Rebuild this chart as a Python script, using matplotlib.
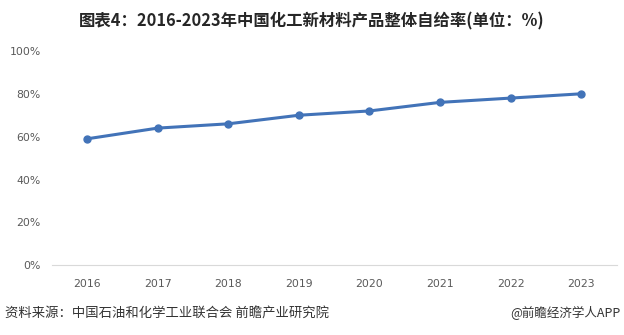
import matplotlib
matplotlib.use("Agg")
import matplotlib.pyplot as plt
from matplotlib.ticker import FuncFormatter

plt.rcParams['font.family'] = ['Noto Sans CJK SC', 'DejaVu Sans']

years = ["2016", "2017", "2018", "2019", "2020", "2021", "2022", "2023"]
rate = [59, 64, 66, 70, 72, 76, 78, 80]
yticks = [0, 20, 40, 60, 80, 100]

title = "图表4：2016-2023年中国化工新材料产品整体自给率(单位：%)"
source = "资料来源：中国石油和化学工业联合会 前瞻产业研究院"
credit = "@前瞻经济学人APP"

fig = plt.figure(figsize=(6.24, 3.35), dpi=100)
ax = fig.add_axes([0.083, 0.208, 0.905, 0.640])

x = list(range(len(years)))
ax.plot(x, rate, color="#4273B8", linewidth=2.2, marker="o", markersize=5,
        markerfacecolor="#4273B8", markeredgecolor="#4273B8", zorder=3)

ax.set_xlim(-0.5, len(years) - 0.5)
ax.set_ylim(0, 100)
ax.set_xticks(x)
ax.set_xticklabels(years)
ax.set_yticks(yticks)
ax.yaxis.set_major_formatter(FuncFormatter(lambda v, p: f"{int(v)}%"))

for s in ["top", "right", "left"]:
    ax.spines[s].set_visible(False)
ax.spines["bottom"].set_color("#D9D9D9")
ax.spines["bottom"].set_linewidth(0.8)
ax.tick_params(axis="both", length=0, labelsize=7.8, colors="#595959")
ax.tick_params(axis="x", pad=10)
ax.tick_params(axis="y", pad=8)
for lbl in ax.get_xticklabels() + ax.get_yticklabels():
    lbl.set_family(['DejaVu Sans'])

fig.text(0.5, 0.935, title, ha="center", va="center", fontsize=11.8,
         fontweight="bold", color="#262626")
fig.text(0.008, 0.065, source, ha="left", va="center", fontsize=9.6, color="#333333")
fig.text(0.995, 0.065, credit, ha="right", va="center", fontsize=9, color="#333333")

fig.savefig("out.png", dpi=100)
